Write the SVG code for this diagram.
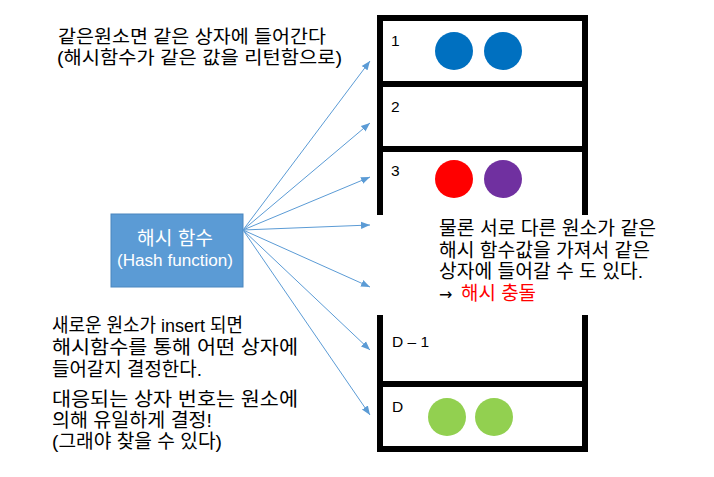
<svg xmlns="http://www.w3.org/2000/svg" width="714" height="477" viewBox="0 0 714 477">
<style>
.t{font-family:"Liberation Sans","Noto Sans CJK KR",sans-serif;fill:#000}
.n{font-family:"Liberation Sans",sans-serif;font-size:15.5px;fill:#000}
.w{fill:#fff}
.bar{stroke:#000;stroke-width:6;fill:none;stroke-linecap:square}
.arr{stroke:#5B9BD5;stroke-width:1;fill:none;marker-end:url(#ah)}
</style>
<defs>
<marker id="ah" viewBox="0 0 10 10" refX="10" refY="5" markerWidth="9" markerHeight="9" markerUnits="userSpaceOnUse" orient="auto">
<path d="M0,1 L10,5 L0,9 z" fill="#5B9BD5"/>
</marker>
</defs>
<rect width="714" height="477" fill="#fff"/>

<g id="table">
<path class="bar" d="M380,18 V212 M585,18 V212 M380,18 H585 M380,84 H585 M380,149 H585"/>
<path class="bar" d="M380,318 V449 M585,318 V449 M380,384 H585 M380,449 H585"/>
</g>

<g id="bucket1">
<text class="n" x="391" y="46">1</text>
<circle cx="454" cy="51" r="19" fill="#0070C0"/>
<circle cx="503" cy="51" r="19" fill="#0070C0"/>
</g>
<g id="bucket2">
<text class="n" x="391" y="112">2</text>
</g>
<g id="bucket3">
<text class="n" x="391" y="176">3</text>
<circle cx="454" cy="179" r="19" fill="#FF0000"/>
<circle cx="503" cy="179" r="19" fill="#7030A0"/>
</g>
<g id="bucketD1">
<text class="n" x="392" y="347">D – 1</text>
</g>
<g id="bucketD">
<text class="n" x="392" y="412">D</text>
<circle cx="447" cy="417" r="19" fill="#92D050"/>
<circle cx="494" cy="417" r="19" fill="#92D050"/>
</g>

<g id="hash">
<rect x="111" y="214" width="132" height="73" fill="#5B9BD5" stroke="#4A86BE" stroke-width="1"/>
<text class="t w" x="137" y="245" font-size="19" textLength="76" lengthAdjust="spacingAndGlyphs">해시 함수</text>
<text class="t w" x="117" y="266" font-size="16" textLength="116" lengthAdjust="spacingAndGlyphs">(Hash function)</text>
</g>

<g id="connectors">
<line class="arr" x1="243" y1="230" x2="370" y2="61"/>
<line class="arr" x1="243" y1="230" x2="370" y2="123"/>
<line class="arr" x1="243" y1="230" x2="370" y2="177"/>
<line class="arr" x1="243" y1="230" x2="370" y2="225"/>
<line class="arr" x1="243" y1="230" x2="370" y2="287"/>
<line class="arr" x1="243" y1="230" x2="370" y2="350"/>
<line class="arr" x1="243" y1="230" x2="370" y2="415"/>
</g>

<g id="note-top">
<text class="t" font-size="18.5" x="58" y="43" textLength="268" lengthAdjust="spacingAndGlyphs">같은원소면 같은 상자에 들어간다</text>
<text class="t" font-size="18.5" x="57" y="64" textLength="285" lengthAdjust="spacingAndGlyphs">(해시함수가 같은 값을 리턴함으로)</text>
</g>

<g id="note-collision">
<text class="t" font-size="19" x="439" y="235" textLength="217" lengthAdjust="spacingAndGlyphs">물론 서로 다른 원소가 같은</text>
<text class="t" font-size="19" x="439" y="257" textLength="211" lengthAdjust="spacingAndGlyphs">해시 함수값을 가져서 같은</text>
<text class="t" font-size="19" x="439" y="278" textLength="204" lengthAdjust="spacingAndGlyphs">상자에 들어갈 수 도 있다.</text>
<text class="t" font-size="19" x="439" y="300"><tspan font-family="DejaVu Sans, sans-serif" font-size="16">→</tspan><tspan x="461" style="fill:#FF0000" textLength="75" lengthAdjust="spacingAndGlyphs">해시 충돌</tspan></text>
</g>

<g id="note-bottom">
<text class="t" font-size="19" x="52" y="332" textLength="191" lengthAdjust="spacingAndGlyphs">새로운 원소가 insert 되면</text>
<text class="t" font-size="19" x="52" y="354" textLength="246" lengthAdjust="spacingAndGlyphs">해시함수를 통해 어떤 상자에</text>
<text class="t" font-size="19" x="52" y="376" textLength="150" lengthAdjust="spacingAndGlyphs">들어갈지 결정한다.</text>
<text class="t" font-size="19" x="52" y="406" textLength="246" lengthAdjust="spacingAndGlyphs">대응되는 상자 번호는 원소에</text>
<text class="t" font-size="19" x="52" y="427" textLength="160" lengthAdjust="spacingAndGlyphs">의해 유일하게 결정!</text>
<text class="t" font-size="19" x="52" y="448" textLength="170" lengthAdjust="spacingAndGlyphs">(그래야 찾을 수 있다)</text>
</g>
</svg>
